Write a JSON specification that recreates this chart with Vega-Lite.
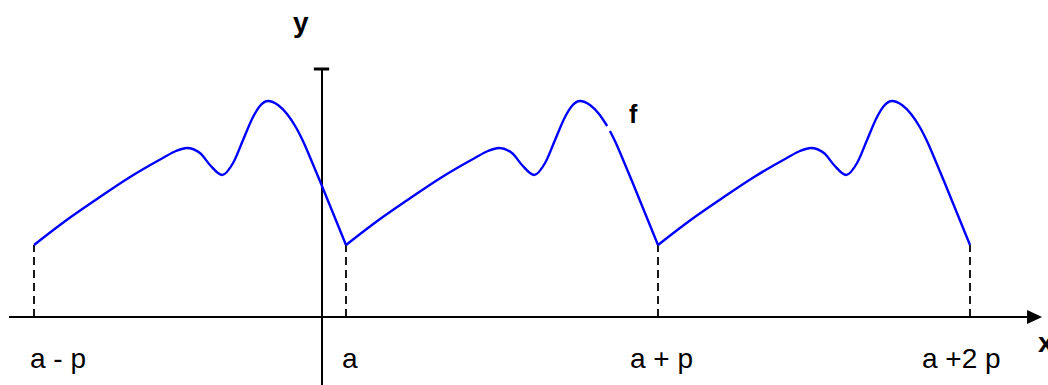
{
  "$schema": "https://vega.github.io/schema/vega-lite/v6.json",
  "width": 1048,
  "height": 385,
  "padding": 0,
  "autosize": "none",
  "background": "white",
  "config": {"view": {"stroke": null}},
  "datasets": {
    "curve": [
      {"x": -100, "y": 72, "seg": "m1"}, {"x": -90.4, "y": 95, "seg": "m1"}, {"x": -79.8, "y": 118, "seg": "m1"}, {"x": -69.2, "y": 140, "seg": "m1"}, {"x": -58.7, "y": 159, "seg": "m1"}, {"x": -54.5, "y": 166, "seg": "m1"}, {"x": -51.0, "y": 169, "seg": "m1"}, {"x": -46.8, "y": 164, "seg": "m1"}, {"x": -43.6, "y": 152, "seg": "m1"}, {"x": -39.7, "y": 142, "seg": "m1"}, {"x": -36.2, "y": 154, "seg": "m1"}, {"x": -33.0, "y": 177, "seg": "m1"}, {"x": -29.8, "y": 200, "seg": "m1"}, {"x": -27.6, "y": 211, "seg": "m1"}, {"x": -25.0, "y": 216, "seg": "m1"}, {"x": -21.8, "y": 212, "seg": "m1"}, {"x": -18.9, "y": 203, "seg": "m1"}, {"x": -16.3, "y": 191, "seg": "m1"}, {"x": -15.4, "y": 186, "seg": "m1"}, {"x": -13.8, "y": 176, "seg": "m1"}, {"x": -10.9, "y": 155, "seg": "m1"}, {"x": -7.7, "y": 131, "seg": "m1"}, {"x": 0, "y": 72, "seg": "m1"},
      {"x": 0, "y": 72, "seg": "0a"}, {"x": 9.6, "y": 95, "seg": "0a"}, {"x": 20.2, "y": 118, "seg": "0a"}, {"x": 30.8, "y": 140, "seg": "0a"}, {"x": 41.3, "y": 159, "seg": "0a"}, {"x": 45.5, "y": 166, "seg": "0a"}, {"x": 49.0, "y": 169, "seg": "0a"}, {"x": 53.2, "y": 164, "seg": "0a"}, {"x": 56.4, "y": 152, "seg": "0a"}, {"x": 60.3, "y": 142, "seg": "0a"}, {"x": 63.8, "y": 154, "seg": "0a"}, {"x": 67.0, "y": 177, "seg": "0a"}, {"x": 70.2, "y": 200, "seg": "0a"}, {"x": 72.4, "y": 211, "seg": "0a"}, {"x": 75.0, "y": 216, "seg": "0a"}, {"x": 78.2, "y": 212, "seg": "0a"}, {"x": 81.1, "y": 203, "seg": "0a"}, {"x": 83.7, "y": 191, "seg": "0a"},
      {"x": 84.6, "y": 186, "seg": "0b"}, {"x": 86.2, "y": 176, "seg": "0b"}, {"x": 89.1, "y": 155, "seg": "0b"}, {"x": 92.3, "y": 131, "seg": "0b"}, {"x": 100, "y": 72, "seg": "0b"},
      {"x": 100, "y": 72, "seg": "p1"}, {"x": 109.6, "y": 95, "seg": "p1"}, {"x": 120.2, "y": 118, "seg": "p1"}, {"x": 130.8, "y": 140, "seg": "p1"}, {"x": 141.3, "y": 159, "seg": "p1"}, {"x": 145.5, "y": 166, "seg": "p1"}, {"x": 149.0, "y": 169, "seg": "p1"}, {"x": 153.2, "y": 164, "seg": "p1"}, {"x": 156.4, "y": 152, "seg": "p1"}, {"x": 160.3, "y": 142, "seg": "p1"}, {"x": 163.8, "y": 154, "seg": "p1"}, {"x": 167.0, "y": 177, "seg": "p1"}, {"x": 170.2, "y": 200, "seg": "p1"}, {"x": 172.4, "y": 211, "seg": "p1"}, {"x": 175.0, "y": 216, "seg": "p1"}, {"x": 178.2, "y": 212, "seg": "p1"}, {"x": 181.1, "y": 203, "seg": "p1"}, {"x": 183.7, "y": 191, "seg": "p1"}, {"x": 184.6, "y": 186, "seg": "p1"}, {"x": 186.2, "y": 176, "seg": "p1"}, {"x": 189.1, "y": 155, "seg": "p1"}, {"x": 192.3, "y": 131, "seg": "p1"}, {"x": 200, "y": 72, "seg": "p1"}
    ],
    "axes": [
      {"x": -108.0, "x2": 218.5, "y": 0, "y2": 0, "w": "axis"},
      {"x": -7.69, "x2": -7.69, "y": -68, "y2": 248, "w": "axis"},
      {"x": -10.3, "x2": -5.4, "y": 248, "y2": 248, "w": "cap"}
    ],
    "drops": [
      {"x": -100, "y": 0, "y2": 72},
      {"x": 0, "y": 0, "y2": 72},
      {"x": 100, "y": 0, "y2": 72},
      {"x": 200, "y": 0, "y2": 72}
    ],
    "arrow": [{"x": 220.7, "y": 0}],
    "labels": [
      {"x": -101.3, "y": -51, "text": "a - p"},
      {"x": -1.3, "y": -51, "text": "a"},
      {"x": 91.0, "y": -51, "text": "a + p"},
      {"x": 184.6, "y": -51, "text": "a +2 p"}
    ],
    "bold": [
      {"x": -17.0, "y": 285, "text": "y", "size": 28},
      {"x": 221.8, "y": -35, "text": "x", "size": 28},
      {"x": 90.7, "y": 194, "text": "f", "size": 25}
    ]
  },
  "layer": [
    {
      "data": {"name": "axes"},
      "mark": {"type": "rule", "color": "black"},
      "encoding": {
        "x": {"field": "x", "type": "quantitative", "scale": {"domain": [-110.9, 225], "nice": false, "zero": false}, "axis": null},
        "x2": {"field": "x2"},
        "y": {"field": "y", "type": "quantitative", "scale": {"domain": [-68, 317], "nice": false, "zero": false}, "axis": null},
        "y2": {"field": "y2"},
        "strokeWidth": {"condition": {"test": "datum.w === 'cap'", "value": 3}, "value": 2}
      }
    },
    {
      "data": {"name": "drops"},
      "mark": {"type": "rule", "color": "black", "strokeWidth": 1.8, "strokeDash": [8, 5]},
      "encoding": {
        "x": {"field": "x", "type": "quantitative"},
        "y": {"field": "y", "type": "quantitative"},
        "y2": {"field": "y2"}
      }
    },
    {
      "data": {"name": "curve"},
      "mark": {"type": "line", "color": "#0000FF", "strokeWidth": 2.4, "interpolate": "monotone"},
      "encoding": {
        "x": {"field": "x", "type": "quantitative"},
        "y": {"field": "y", "type": "quantitative"},
        "detail": {"field": "seg", "type": "nominal"}
      }
    },
    {
      "data": {"name": "arrow"},
      "mark": {"type": "point", "shape": "M-1,-0.93L1,0L-1,0.93Z", "filled": true, "color": "black", "size": 225, "opacity": 1},
      "encoding": {
        "x": {"field": "x", "type": "quantitative"},
        "y": {"field": "y", "type": "quantitative"}
      }
    },
    {
      "data": {"name": "labels"},
      "mark": {"type": "text", "font": "Liberation Sans", "fontSize": 28, "align": "left", "baseline": "alphabetic", "color": "black"},
      "encoding": {
        "x": {"field": "x", "type": "quantitative"},
        "y": {"field": "y", "type": "quantitative"},
        "text": {"field": "text"}
      }
    },
    {
      "data": {"name": "bold"},
      "mark": {"type": "text", "font": "Liberation Sans", "fontWeight": "bold", "align": "left", "baseline": "alphabetic", "color": "black"},
      "encoding": {
        "x": {"field": "x", "type": "quantitative"},
        "y": {"field": "y", "type": "quantitative"},
        "text": {"field": "text"},
        "size": {"field": "size", "type": "quantitative", "scale": null}
      }
    }
  ]
}
